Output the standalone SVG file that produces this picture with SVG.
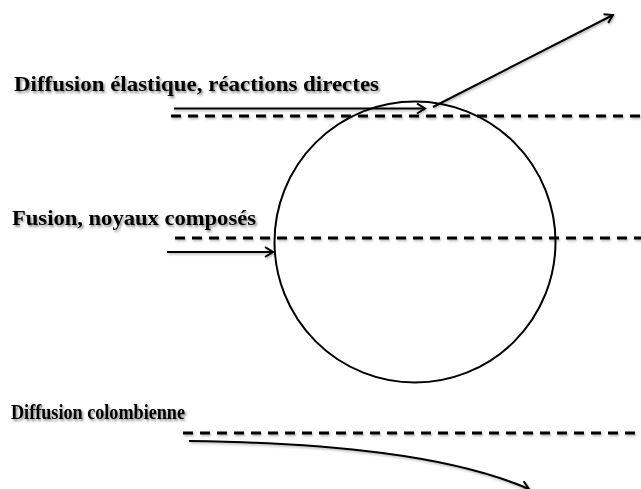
<svg xmlns="http://www.w3.org/2000/svg" width="641" height="489" viewBox="0 0 641 489">
<defs>
<filter id="sh" filterUnits="userSpaceOnUse" x="0" y="0" width="641" height="489">
<feDropShadow dx="1.5" dy="2" stdDeviation="1" flood-color="#000" flood-opacity="0.45"/>
</filter>
<filter id="shl" filterUnits="userSpaceOnUse" x="0" y="0" width="641" height="489">
<feDropShadow dx="1" dy="1.5" stdDeviation="0.8" flood-color="#000" flood-opacity="0.3"/>
</filter>
<marker id="ah" markerWidth="12" markerHeight="12" refX="10" refY="6" orient="auto" markerUnits="userSpaceOnUse">
<path d="M2,1 L10,6 L2,11" fill="none" stroke="#000" stroke-width="2"/>
</marker>
<style>
.lbl{font-family:"Liberation Serif","Times New Roman",serif;font-weight:bold;font-size:22px;fill:#000;filter:url(#sh)}
.dash{stroke:#000;stroke-width:2.8;stroke-dasharray:10 7;fill:none;filter:url(#shl)}
.arr{stroke:#000;stroke-width:2;fill:none;marker-end:url(#ah);filter:url(#shl)}
</style>
</defs>
<rect width="641" height="489" fill="#fff"/>
<g id="nucleus">
<circle cx="415" cy="242" r="140.5" fill="none" stroke="#000" stroke-width="2"/>
</g>
<g id="labels">
<text class="lbl" x="14" y="91" textLength="365" lengthAdjust="spacingAndGlyphs">Diffusion élastique, réactions directes</text>
<text class="lbl" x="12" y="225" textLength="244" lengthAdjust="spacingAndGlyphs">Fusion, noyaux composés</text>
<text class="lbl" x="11" y="419" textLength="174" lengthAdjust="spacingAndGlyphs">Diffusion colombienne</text>
</g>
<g id="connectors">
<line class="dash" x1="171" y1="116" x2="641" y2="116"/>
<line class="dash" x1="175" y1="238" x2="641" y2="238"/>
<line class="dash" x1="183" y1="433" x2="641" y2="433"/>
<line class="arr" x1="174" y1="108.5" x2="425" y2="108.5"/>
<line class="arr" x1="433" y1="107" x2="613" y2="15"/>
<line class="arr" x1="167" y1="252" x2="273" y2="252"/>
<path class="arr" d="M189,441 C330,443 450,455 529,489"/>
</g>
</svg>
